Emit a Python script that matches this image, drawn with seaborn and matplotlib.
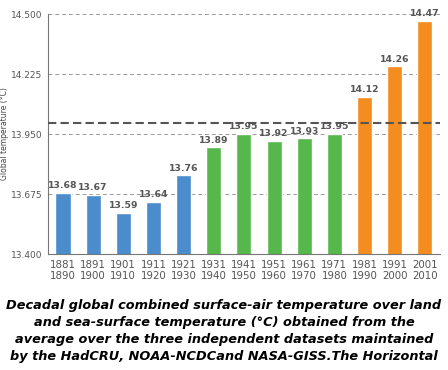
import pandas as pd
import numpy as np
import matplotlib.pyplot as plt
import seaborn as sns

# valores decadales
decadas = ["1881\n1890", "1891\n1900", "1901\n1910", "1911\n1920", "1921\n1930",
           "1931\n1940", "1941\n1950", "1951\n1960", "1961\n1970", "1971\n1980",
           "1981\n1990", "1991\n2000", "2001\n2010"]
temps = [13.68, 13.67, 13.59, 13.64, 13.76, 13.89, 13.95, 13.92, 13.93, 13.95,
         14.12, 14.26, 14.47]
grupos = ["a"] * 5 + ["b"] * 5 + ["c"] * 3
yticks = [13.400, 13.675, 13.950, 14.225, 14.500]
linea_ref = 14.0

df = pd.DataFrame({"Decada": decadas, "Temp": temps, "Grupo": grupos})

sns.set_theme(style="white")

fig = plt.figure(figsize=(4.48, 3.70), dpi=100)
ax = fig.add_axes([0.107, 0.3135, 0.875, 0.6485])

colores = {"a": "#4a8ccc", "b": "#56b84a", "c": "#f38d1f"}
sns.barplot(data=df, x="Decada", y="Temp", hue="Grupo", palette=colores,
            dodge=False, width=0.5, legend=False, ax=ax, saturation=1)

ax.set_ylim(13.4, 14.5)
ax.set_xlim(-0.5, len(decadas) - 0.5)
ax.set_yticks(yticks)
ax.set_yticklabels([f"{v:.3f}" for v in yticks], fontsize=6.5, color="#555555")
ax.tick_params(axis="x", labelsize=7.4, colors="#555555", length=0, pad=4)
ax.set_xticks(np.arange(-0.5, len(decadas)), minor=True)
ax.tick_params(axis="x", which="minor", length=3, color="#888888")
ax.tick_params(axis="y", length=3, color="#888888", pad=1)

for y in yticks[1:]:
    ax.axhline(y, color="#999999", lw=0.7, ls=(0, (4, 3)), zorder=0)
ax.axhline(linea_ref, color="#555555", lw=1.5, ls=(0, (4, 2)), zorder=3)

for i, v in enumerate(temps):
    ax.text(i, v + 0.012, f"{v:.2f}", ha="center", va="bottom", fontsize=6.7,
            fontweight="bold", color="#555555")

for s in ["top", "right"]:
    ax.spines[s].set_visible(False)
for s in ["left", "bottom"]:
    ax.spines[s].set_color("#777777")
    ax.spines[s].set_linewidth(0.8)

ax.set_xlabel("")
ax.set_ylabel("Global temperature (°C)", fontsize=5.5, color="#444444")
ax.yaxis.set_label_coords(-0.1, 0.5)

texto = ("Decadal global combined surface-air temperature over land\n"
         "and sea-surface temperature (°C) obtained from the\n"
         "average over the three independent datasets maintained\n"
         "by the HadCRU, NOAA-NCDCand NASA-GISS.The Horizontal")
fig.text(0.5, 0.105, texto, ha="center", va="center", fontsize=9.3,
         fontweight="heavy", style="italic", color="black", linespacing=1.4)

plt.savefig("out.png", dpi=100)
